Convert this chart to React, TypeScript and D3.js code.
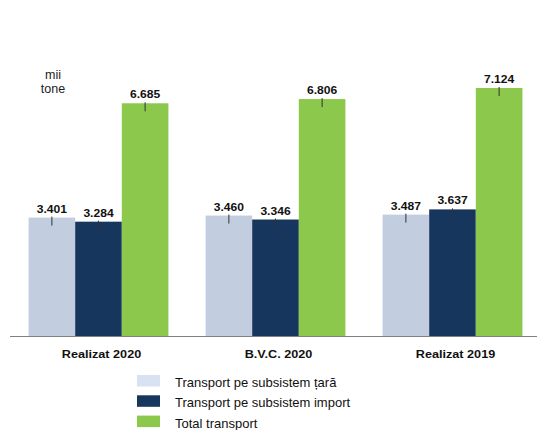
import React, { useEffect, useRef } from 'react';
import * as d3 from 'd3';

const categories = ['Realizat 2020', 'B.V.C. 2020', 'Realizat 2019'];
const seriesNames = ['Transport pe subsistem țară', 'Transport pe subsistem import', 'Total transport'];
const taraValues = [3.401, 3.46, 3.487];
const importValues = [3.284, 3.346, 3.637];
const totalValues = [6.685, 6.806, 7.124];

const barColors = ['#c3cde0', '#17365d', '#8cc84b'];
const legendColors = ['#d9e2f3', '#17365d', '#8cc84b'];

const App: React.FC = () => {
  const svgRef = useRef<SVGSVGElement>(null);

  useEffect(() => {
    if (!svgRef.current) return;
    const svg = d3.select(svgRef.current);
    svg.selectAll('*').remove();

    const width = 537;
    const height = 430;
    const baseline = 336;
    const font = 'Liberation Sans, Arial, sans-serif';

    const x = d3.scaleBand<string>()
      .domain(categories)
      .range([10, 541])
      .paddingInner(0.21)
      .paddingOuter(0.105);

    const x1 = d3.scaleBand<number>()
      .domain([0, 1, 2])
      .range([0, x.bandwidth()]);

    const y = d3.scaleLinear().domain([0, 7.124]).range([baseline, 88]);

    const series = [taraValues, importValues, totalValues];

    const groups = svg.selectAll('g.grp')
      .data(categories)
      .join('g')
      .attr('class', 'grp')
      .attr('transform', d => `translate(${x(d)},0)`);

    groups.each(function (cat, ci) {
      const g = d3.select(this);
      series.forEach((vals, si) => {
        const v = vals[ci];
        const bx = x1(si)!;
        const bw = x1.bandwidth();
        g.append('rect')
          .attr('x', bx)
          .attr('y', y(v))
          .attr('width', bw)
          .attr('height', baseline - y(v))
          .attr('fill', barColors[si]);
        // small tick mark at bar top
        g.append('line')
          .attr('x1', bx + bw / 2)
          .attr('x2', bx + bw / 2)
          .attr('y1', y(v) - 1)
          .attr('y2', y(v) + 8)
          .attr('stroke', '#333')
          .attr('stroke-width', 1);
        g.append('text')
          .attr('transform', `translate(${bx + bw / 2},${y(v) - 5}) scale(1.1,1)`)
          .attr('text-anchor', 'middle')
          .style('font-family', font)
          .style('font-size', '11px')
          .style('font-weight', 'bold')
          .style('fill', '#111')
          .text(d3.format('.3f')(v));
      });
      g.append('text')
        .attr('transform', `translate(${x.bandwidth() / 2 + 3},358) scale(1.15,1)`)
        .attr('text-anchor', 'middle')
        .style('font-family', font)
        .style('font-size', '11px')
        .style('font-weight', 'bold')
        .style('fill', '#111')
        .text(cat);
    });

    // baseline axis
    svg.append('line')
      .attr('x1', 10)
      .attr('x2', width)
      .attr('y1', baseline + 0.5)
      .attr('y2', baseline + 0.5)
      .attr('stroke', '#808080')
      .attr('stroke-width', 1);

    // unit label
    const unit = svg.append('text')
      .attr('text-anchor', 'middle')
      .style('font-family', font)
      .style('font-size', '12.5px')
      .style('fill', '#222');
    unit.append('tspan').attr('x', 53).attr('y', 79).text('mii');
    unit.append('tspan').attr('x', 53).attr('y', 93).text('tone');

    // legend
    const legend = svg.append('g');
    seriesNames.forEach((name, i) => {
      const ly = 375 + i * 20.3;
      legend.append('rect')
        .attr('x', 137)
        .attr('y', ly)
        .attr('width', 23)
        .attr('height', 11.5)
        .attr('fill', legendColors[i]);
      legend.append('text')
        .attr('x', 175)
        .attr('y', ly + 12)
        .style('font-family', font)
        .style('font-size', '13px')
        .style('fill', '#111')
        .text(name);
    });

    svg.attr('width', width).attr('height', height);
  }, []);

  return (
    <div style={{ position: 'absolute', left: 0, top: 0, width: 537, height: 430, background: '#fff' }}>
      <svg ref={svgRef} style={{ display: 'block' }}></svg>
    </div>
  );
};

export default App;
